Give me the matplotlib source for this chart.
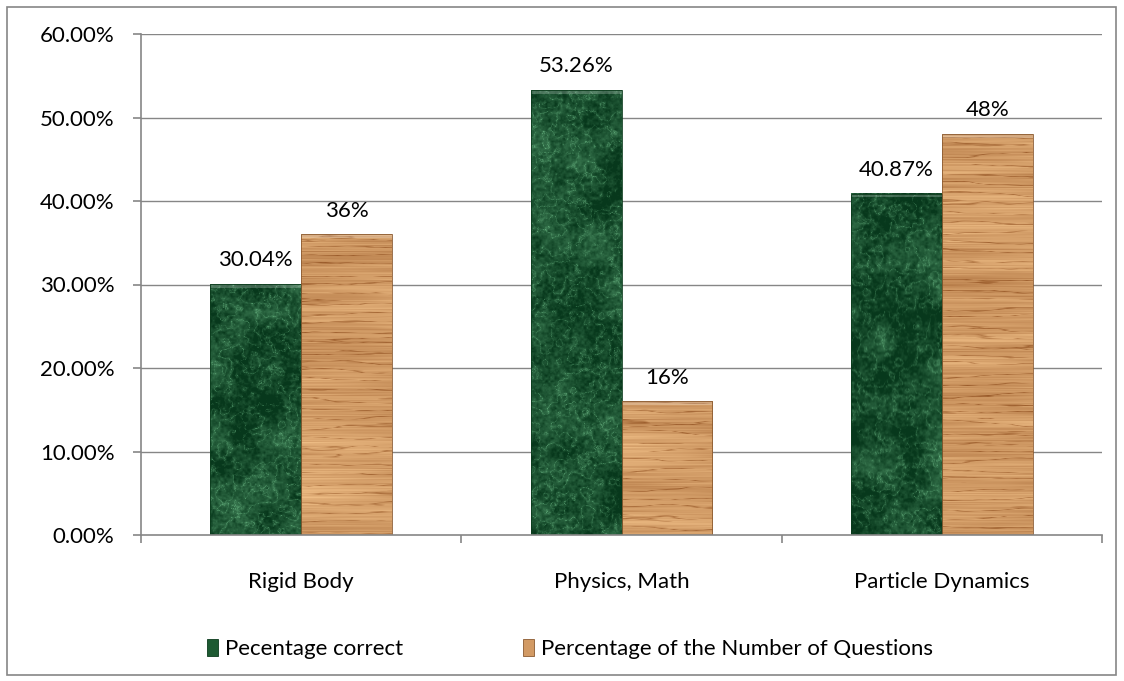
import numpy as np
import matplotlib
matplotlib.use("Agg")
import matplotlib.pyplot as plt
from matplotlib.patches import Rectangle, Patch
from matplotlib.ticker import FixedLocator, FuncFormatter

plt.rcParams['font.family'] = ['Lato', 'DejaVu Sans']

categories = ["Rigid Body", "Physics, Math", "Particle Dynamics"]
pct_correct = [30.04, 53.26, 40.87]
pct_questions = [36, 16, 48]
label_correct = ["30.04%", "53.26%", "40.87%"]
label_questions = ["36%", "16%", "48%"]
series_names = ["Pecentage correct", "Percentage of the Number of Questions"]
y_ticks = [0, 10, 20, 30, 40, 50, 60]

FS = 16


def hash_noise(ix, iy, seed):
    v = np.sin(ix * 12.9898 + iy * 78.233 + seed * 37.719) * 43758.5453
    return v - np.floor(v)


def value_noise(x, y, seed):
    x0 = np.floor(x); y0 = np.floor(y)
    fx = x - x0; fy = y - y0
    fx = fx * fx * (3 - 2 * fx); fy = fy * fy * (3 - 2 * fy)
    a = hash_noise(x0, y0, seed); b = hash_noise(x0 + 1, y0, seed)
    c = hash_noise(x0, y0 + 1, seed); d = hash_noise(x0 + 1, y0 + 1, seed)
    return (a * (1 - fx) + b * fx) * (1 - fy) + (c * (1 - fx) + d * fx) * fy


def fbm(x, y, seed, octaves=5):
    total = np.zeros_like(x); amp = 0.5; freq = 1.0
    for o in range(octaves):
        total += amp * value_noise(x * freq, y * freq, seed + o)
        amp *= 0.5; freq *= 2.0
    return total


def marble_texture(w, h, seed):
    yy, xx = np.mgrid[0:h, 0:w].astype(float)
    n = fbm(xx / 14.0, yy / 14.0, seed, 6)
    veins = np.abs(np.sin((xx * 0.04 + yy * 0.06) + n * 12.0))
    veins = np.clip(1 - veins ** 0.25, 0, 1) ** 1.3
    speck = fbm(xx / 3.0, yy / 3.0, seed + 23, 2)
    cloud = fbm(xx / 30.0, yy / 30.0, seed + 11, 3)
    t = 0.22 + 0.60 * veins + 0.60 * (cloud - 0.5) + 0.45 * (speck - 0.5)
    t = np.clip(t, 0, 1)
    dark = np.array([0.03, 0.22, 0.11]); light = np.array([0.45, 0.76, 0.55])
    img = dark[None, None, :] * (1 - t[..., None]) + light[None, None, :] * t[..., None]
    return img


def wood_texture(w, h, seed):
    yy, xx = np.mgrid[0:h, 0:w].astype(float)
    warp = fbm(xx / 90.0, yy / 8.0, seed, 4)
    grain = fbm(xx / 120.0, yy / 0.9, seed + 5, 3)
    bands = fbm(xx / 200.0, yy / 12.0, seed + 9, 3)
    lines = np.clip(1 - np.abs(np.sin(yy * 0.33 + warp * 5.0)) * 4.0, 0, 1)
    t = 0.72 - 0.38 * lines + 0.50 * (grain - 0.5) + 0.55 * (bands - 0.5)
    t = np.clip(t, 0, 1)
    dark = np.array([0.58, 0.33, 0.14]); light = np.array([0.95, 0.76, 0.54])
    img = dark[None, None, :] * (1 - t[..., None]) + light[None, None, :] * t[..., None]
    return img


fig = plt.figure(figsize=(11.24, 6.81), dpi=100)
fig.patches.append(Rectangle((7 / 1124, 6 / 681), 1109 / 1124, 668 / 681,
                             transform=fig.transFigure, fill=False,
                             edgecolor="#868686", linewidth=1.2))

ax = fig.add_axes([141 / 1124, 1 - 535 / 681, 961 / 1124, 501 / 681])
ax.set_xlim(-0.5, 2.5)
ax.set_ylim(0, 60)

grid_color = "#868686"
for v in y_ticks[1:]:
    ax.axhline(v, color=grid_color, linewidth=1.0, zorder=0)

x = np.arange(len(categories))
width = 0.284
px_per_x = 961 / 3.0
px_per_y = 501 / 60.0

for i in range(len(categories)):
    for j, (vals, tex, edge, lbls) in enumerate([
            (pct_correct, marble_texture, "#0b3b1c", label_correct),
            (pct_questions, wood_texture, "#8a5a30", label_questions)]):
        v = vals[i]
        x0 = x[i] - width if j == 0 else x[i]
        x1 = x0 + width
        wpx = int(round(width * px_per_x))
        hpx = max(int(round(v * px_per_y)), 2)
        img = tex(wpx, hpx, seed=3 * i + 7 * j + 1)
        ax.imshow(img, extent=(x0, x1, 0, v), aspect='auto', zorder=2,
                  interpolation='bilinear', origin='upper')
        # bevel highlight along the top edge
        ax.add_patch(Rectangle((x0, v - 0.4), width, 0.4, facecolor="white",
                               alpha=0.22, edgecolor="none", zorder=3))
        ax.add_patch(Rectangle((x0, 0), width, v, facecolor="none",
                               edgecolor=edge, linewidth=0.6, zorder=3))
        ax.annotate(lbls[i], (x0 + width / 2, v), xytext=(0, 10),
                    textcoords="offset points", ha="center", va="bottom",
                    fontsize=FS, color="black", zorder=4)

ax.set_xlim(-0.5, 2.5)
ax.set_ylim(0, 60)

for s in ["top", "right"]:
    ax.spines[s].set_visible(False)
for s in ["left", "bottom"]:
    ax.spines[s].set_color(grid_color)
    ax.spines[s].set_linewidth(1.2)
    ax.spines[s].set_zorder(5)

ax.yaxis.set_major_locator(FixedLocator(y_ticks))
ax.yaxis.set_major_formatter(FuncFormatter(lambda v, p: f"{v:.2f}%"))
ax.tick_params(axis="y", length=6, width=1.2, color=grid_color, pad=13,
               labelsize=FS)

ax.set_xticks(x)
ax.set_xticklabels(categories)
ax.xaxis.set_minor_locator(FixedLocator([-0.5, 0.5, 1.5, 2.5]))
ax.tick_params(axis="x", which="major", length=0, pad=27, labelsize=FS)
ax.tick_params(axis="x", which="minor", length=6, width=1.2, color=grid_color)

handles = [Patch(facecolor="#1d5a32", edgecolor="#0b3b1c", linewidth=0.6),
           Patch(facecolor="#d29a64", edgecolor="#8a5a30", linewidth=0.6)]
fig.legend(handles, series_names, loc="center", bbox_to_anchor=(570 / 1124, 1 - 649 / 681),
           ncol=2, frameon=False, fontsize=FS, handlelength=0.5, handleheight=0.8,
           handletextpad=0.3, columnspacing=5.4)

fig.savefig("out.png", dpi=100)
